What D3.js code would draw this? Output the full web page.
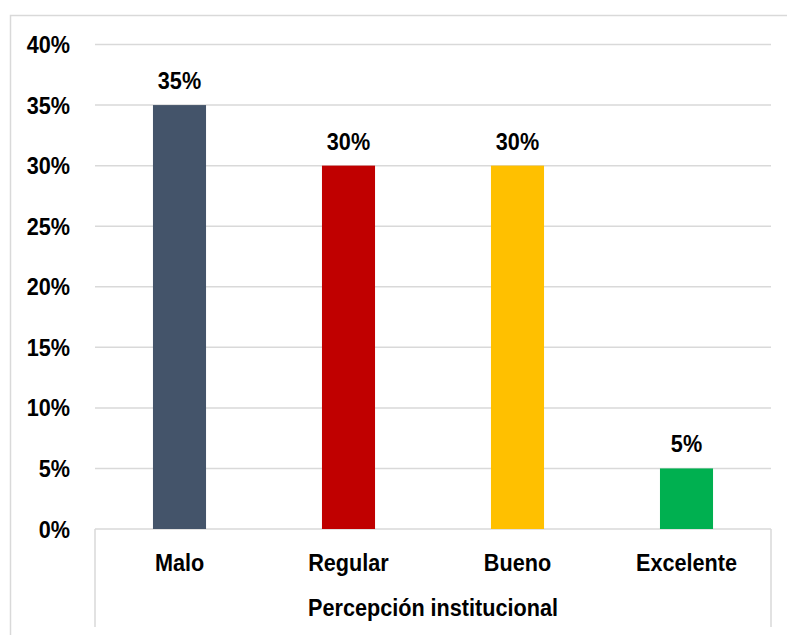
<!DOCTYPE html>
<html>
<head>
<meta charset="utf-8">
<script src="https://cdn.jsdelivr.net/npm/d3@7"></script>
<style>
  body { margin: 0; background: #fff; }
  text { font-family: "Liberation Sans Narrow", "Arial Narrow", Arial, sans-serif; font-weight: bold; fill: #000; }
</style>
</head>
<body>
<svg id="chart" width="787" height="635"></svg>
<script>
let categories = ["Malo", "Regular", "Bueno", "Excelente"];
let values = [0.35, 0.30, 0.30, 0.05];
let barColors = ["#44546a", "#c00000", "#ffc000", "#00b050"];
let yTicks = [0, 0.05, 0.10, 0.15, 0.20, 0.25, 0.30, 0.35, 0.40];
let axisTitle = "Percepción institucional";

let svg = d3.select("#chart");

// chart border
svg.append("rect")
  .attr("x", 10.5).attr("y", 15.5)
  .attr("width", 800).attr("height", 700)
  .attr("fill", "none")
  .attr("stroke", "#d9d9d9")
  .attr("stroke-width", 1.5);

let plotLeft = 95, plotRight = 771, plotTop = 44.5, plotBottom = 529;

let x = d3.scaleBand()
  .domain(categories)
  .range([plotLeft, plotRight])
  .paddingInner(0.686)
  .paddingOuter(0.343);

let y = d3.scaleLinear()
  .domain([0, 0.4])
  .range([plotBottom, plotTop]);

// gridlines
svg.append("g").selectAll("line")
  .data(yTicks)
  .enter().append("line")
  .attr("x1", plotLeft).attr("x2", plotRight)
  .attr("y1", d => y(d)).attr("y2", d => y(d))
  .attr("stroke", "#d9d9d9")
  .attr("stroke-width", 1.5);

// y axis labels
let yAxis = d3.axisLeft(y)
  .tickValues(yTicks)
  .tickFormat(d3.format(".0%"))
  .tickSize(0)
  .tickPadding(25);

let gy = svg.append("g")
  .attr("transform", "translate(" + plotLeft + ",0)")
  .call(yAxis);
gy.select(".domain").remove();
gy.attr("font-family", null).attr("font-size", null);
gy.selectAll("text")
  .style("font-size", "23px")
  .attr("dy", "0.35em");

// bars
svg.append("g").selectAll("rect")
  .data(values)
  .enter().append("rect")
  .attr("x", (d, i) => x(categories[i]))
  .attr("width", x.bandwidth())
  .attr("y", d => y(d))
  .attr("height", d => y(0) - y(d))
  .attr("fill", (d, i) => barColors[i]);

// value labels
svg.append("g").selectAll("text")
  .data(values)
  .enter().append("text")
  .attr("x", (d, i) => x(categories[i]) + x.bandwidth() / 2)
  .attr("y", d => y(d) - 16)
  .attr("text-anchor", "middle")
  .style("font-size", "23px")
  .text(d => d3.format(".0%")(d));

// category axis separators
svg.append("g").selectAll("line")
  .data([plotLeft, plotRight])
  .enter().append("line")
  .attr("x1", d => d).attr("x2", d => d)
  .attr("y1", plotBottom).attr("y2", 627)
  .attr("stroke", "#d9d9d9")
  .attr("stroke-width", 1.5);

// category labels
svg.append("g").selectAll("text")
  .data(categories)
  .enter().append("text")
  .attr("x", d => x(d) + x.bandwidth() / 2)
  .attr("y", 571)
  .attr("text-anchor", "middle")
  .style("font-size", "23px")
  .text(d => d);

// axis title
svg.append("text")
  .attr("x", (plotLeft + plotRight) / 2)
  .attr("y", 616)
  .attr("text-anchor", "middle")
  .style("font-size", "23px")
  .text(axisTitle);

// squeeze text a bit, the original uses a narrow font
svg.selectAll("text").each(function() {
  let len = this.getComputedTextLength();
  d3.select(this)
    .attr("textLength", len * 0.94)
    .attr("lengthAdjust", "spacingAndGlyphs");
});
</script>
</body>
</html>
